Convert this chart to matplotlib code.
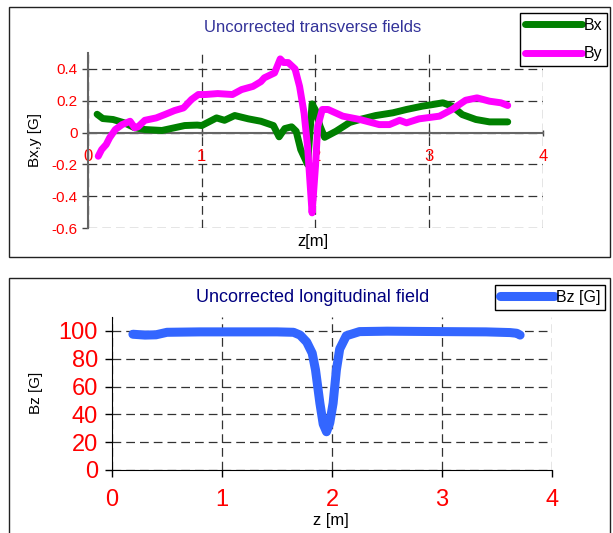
import matplotlib
matplotlib.use("Agg")
import matplotlib.pyplot as plt
from matplotlib.patches import Rectangle
from matplotlib.lines import Line2D

plt.rcParams['font.family'] = ['Liberation Sans', 'DejaVu Sans']

# transverse fields
z_bx = [0.08, 0.13, 0.22, 0.32, 0.41, 0.50, 0.65, 0.76, 0.85, 0.96, 1.00, 1.13,
        1.20, 1.29, 1.41, 1.52, 1.63, 1.68, 1.73, 1.79, 1.83, 1.87, 1.93, 1.97,
        2.00, 2.04, 2.08, 2.18, 2.30, 2.39, 2.53, 2.68, 2.80, 2.94, 3.03, 3.12,
        3.20, 3.29, 3.41, 3.53, 3.69]
bx = [0.115, 0.088, 0.082, 0.061, 0.030, 0.019, 0.013, 0.030, 0.044, 0.047, 0.044, 0.092,
      0.077, 0.107, 0.086, 0.071, 0.044, -0.027, 0.025, 0.036, 0.008, -0.107, -0.200, 0.180,
      0.140, 0.040, -0.030, 0.008, 0.063, 0.082, 0.107, 0.124, 0.145, 0.166, 0.176, 0.187,
      0.166, 0.113, 0.082, 0.067, 0.067]

z_by = [0.09, 0.12, 0.16, 0.19, 0.24, 0.30, 0.37, 0.41, 0.44, 0.50, 0.60, 0.675,
        0.76, 0.84, 0.91, 0.97, 1.03, 1.14, 1.27, 1.35, 1.45, 1.52, 1.55, 1.64,
        1.69, 1.72, 1.76, 1.82, 1.86, 1.90, 1.93, 1.97, 2.00, 2.02, 2.06, 2.11,
        2.24, 2.39, 2.56, 2.65, 2.74, 2.80, 2.91, 3.09, 3.20, 3.32, 3.42, 3.53,
        3.63, 3.69]
by = [-0.149, -0.107, -0.075, -0.033, 0.019, 0.050, 0.071, 0.030, 0.036, 0.077, 0.092, 0.113,
      0.138, 0.155, 0.208, 0.239, 0.239, 0.245, 0.239, 0.270, 0.290, 0.320, 0.344, 0.375,
      0.463, 0.440, 0.440, 0.400, 0.290, 0.120, -0.086, -0.505, -0.210, 0.040, 0.145, 0.145,
      0.103, 0.082, 0.050, 0.050, 0.077, 0.061, 0.086, 0.103, 0.145, 0.203, 0.218, 0.197,
      0.187, 0.170]

# longitudinal field
z_bz = [0.19, 0.30, 0.40, 0.50, 0.80, 1.20, 1.50, 1.65, 1.71, 1.77, 1.82, 1.85,
        1.89, 1.92, 1.95, 1.98, 2.01, 2.04, 2.07, 2.13, 2.25, 2.50, 3.00, 3.40,
        3.62, 3.68, 3.71]
bz = [97.6, 97.0, 97.2, 99.0, 99.3, 99.3, 99.3, 99.0, 97.0, 92.0, 84.0, 72.0,
      48.0, 33.0, 27.5, 34.0, 48.0, 72.0, 87.0, 96.5, 99.5, 99.8, 99.5, 99.3,
      98.8, 98.3, 97.0]

x_ticks = [0, 1, 2, 3, 4]
top_yticks = [-0.6, -0.4, -0.2, 0, 0.2, 0.4]
top_ylabels = ['-0.6', '-0.4', '-0.2', '0', '0.2', '0.4']
bot_yticks = [0, 20, 40, 60, 80, 100]

W, H = 613, 533
fig = plt.figure(figsize=(W / 100, H / 100), dpi=100)


def fx(px):
    return px / W


def fy(py):
    return 1 - py / H


# panel frames
fig.patches.append(Rectangle((fx(9), fy(257)), fx(601), 250 / H, transform=fig.transFigure,
                             fill=False, edgecolor='#222222', lw=1.0))
fig.patches.append(Rectangle((fx(9), fy(540)), fx(601), 262 / H, transform=fig.transFigure,
                             fill=False, edgecolor='#222222', lw=1.0))

grid_kw = dict(color='#333333', linestyle=(0, (7, 4)), linewidth=0.9)

# ---- top panel ----
ax1 = fig.add_axes([fx(88), fy(228), fx(543 - 88), (228 - 53) / H])
ax1.plot(z_bx, bx, color='#008000', lw=5, solid_capstyle='round', solid_joinstyle='round', zorder=3)
ax1.plot(z_by, by, color='#FF00FF', lw=5, solid_capstyle='round', solid_joinstyle='round', zorder=4)
ax1.set_xlim(0, 4)
ax1.set_ylim(-0.6, 0.5)
ax1.set_xticks(x_ticks)
ax1.set_yticks(top_yticks)
ax1.set_yticklabels(top_ylabels)
ax1.grid(True, **grid_kw)
ax1.set_axisbelow(True)
for s in ['top', 'right']:
    ax1.spines[s].set_visible(False)
ax1.spines['bottom'].set_position(('data', 0))
ax1.spines['bottom'].set_color('#666666')
ax1.spines['bottom'].set_linewidth(1.5)
ax1.spines['left'].set_color('#666666')
ax1.spines['left'].set_linewidth(1.5)
ax1.tick_params(axis='both', colors='#444444', labelcolor='red', labelsize=11, length=4, width=1)
ax1.tick_params(axis='x', direction='inout', pad=10, labelsize=12)
fig.text(fx(313), fy(27), 'Uncorrected transverse fields', color='#333399', fontsize=12,
         ha='center', va='center')
fig.text(fx(313), fy(242), 'z[m]', fontsize=12, ha='center', va='center')
fig.text(fx(35), fy(140), 'Bx,y [G]', fontsize=11, rotation=90, ha='center', va='center')

h1 = [Line2D([], [], color='#008000', lw=5, solid_capstyle='round'),
      Line2D([], [], color='#FF00FF', lw=5, solid_capstyle='round')]
leg1 = fig.legend(h1, ['Bx', 'By'], loc='upper left', bbox_to_anchor=(fx(520), fy(13)),
                  fontsize=11.5, handlelength=3.6, handletextpad=0.1, labelspacing=0.85,
                  borderpad=0.3, fancybox=False, framealpha=1, edgecolor='black',
                  borderaxespad=0)
leg1.get_frame().set_linewidth(1.0)

# ---- bottom panel ----
ax2 = fig.add_axes([fx(112), fy(470), fx(552 - 112), (470 - 317) / H])
ax2.plot(z_bz, bz, color='#3366FF', lw=6.5, solid_capstyle='round', solid_joinstyle='round', zorder=3)
ax2.set_xlim(0, 4)
ax2.set_ylim(0, 110)
ax2.set_xticks(x_ticks)
ax2.set_yticks(bot_yticks)
ax2.grid(True, **grid_kw)
ax2.set_axisbelow(True)
for s in ['top', 'right']:
    ax2.spines[s].set_visible(False)
ax2.tick_params(axis='both', colors='black', labelcolor='red', labelsize=17, length=5, width=1)
ax2.tick_params(axis='x', pad=9)
ax2.tick_params(axis='y', pad=5)
fig.text(fx(313), fy(298), 'Uncorrected longitudinal field', color='#000080', fontsize=13,
         ha='center', va='center')
fig.text(fx(331), fy(520), 'z [m]', fontsize=12, ha='center', va='center')
fig.text(fx(36), fy(393), 'Bz [G]', fontsize=11, rotation=90, ha='center', va='center')

h2 = [Line2D([], [], color='#3366FF', lw=6.5, solid_capstyle='round')]
leg2 = fig.legend(h2, ['Bz [G]'], loc='upper left', bbox_to_anchor=(fx(495), fy(285)),
                  fontsize=11.5, handlelength=3.4, handletextpad=0.1, borderpad=0.3,
                  fancybox=False, framealpha=1, edgecolor='black', borderaxespad=0)
leg2.get_frame().set_linewidth(1.0)

fig.savefig('out.png', dpi=100)
